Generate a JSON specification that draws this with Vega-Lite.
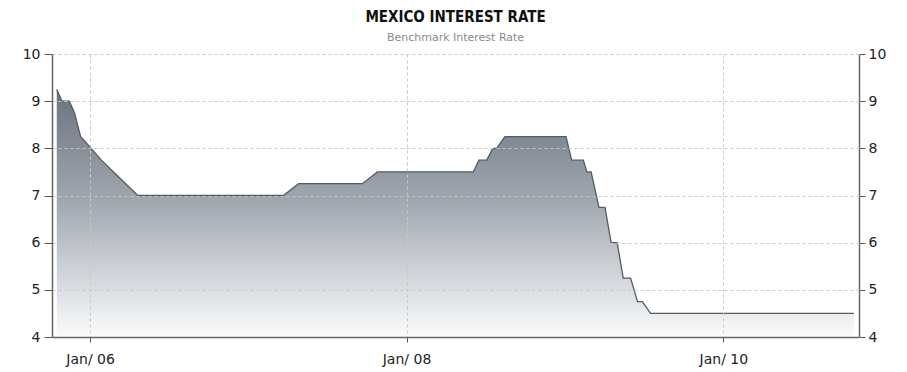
{
  "$schema": "https://vega.github.io/schema/vega-lite/v6.json",
  "width": 807,
  "height": 283,
  "autosize": {"type": "none"},
  "padding": {"left": 52, "top": 54, "right": 48, "bottom": 35},
  "background": "white",
  "title": {
    "text": "MEXICO INTEREST RATE",
    "subtitle": "Benchmark Interest Rate",
    "anchor": "middle",
    "font": "DejaVu Sans Condensed",
    "fontSize": 15,
    "fontWeight": "bold",
    "color": "#111111",
    "subtitleFont": "DejaVu Sans",
    "subtitleFontSize": 11,
    "subtitleColor": "#8a8a8a",
    "subtitlePadding": 7,
    "offset": 4
  },
  "data": {
    "values": [
      {"date": "2005-10-16", "rate": 9.25},
      {"date": "2005-10-28", "rate": 9.0},
      {"date": "2005-11-14", "rate": 9.0},
      {"date": "2005-11-26", "rate": 8.75},
      {"date": "2005-12-10", "rate": 8.25},
      {"date": "2006-01-27", "rate": 7.75},
      {"date": "2006-02-24", "rate": 7.5},
      {"date": "2006-03-24", "rate": 7.25},
      {"date": "2006-04-21", "rate": 7.0},
      {"date": "2007-03-23", "rate": 7.0},
      {"date": "2007-04-27", "rate": 7.25},
      {"date": "2007-09-21", "rate": 7.25},
      {"date": "2007-10-26", "rate": 7.5},
      {"date": "2008-06-03", "rate": 7.5},
      {"date": "2008-06-16", "rate": 7.75},
      {"date": "2008-07-04", "rate": 7.75},
      {"date": "2008-07-18", "rate": 8.0},
      {"date": "2008-07-27", "rate": 8.0},
      {"date": "2008-08-15", "rate": 8.25},
      {"date": "2009-01-03", "rate": 8.25},
      {"date": "2009-01-16", "rate": 7.75},
      {"date": "2009-02-12", "rate": 7.75},
      {"date": "2009-02-20", "rate": 7.5},
      {"date": "2009-03-02", "rate": 7.5},
      {"date": "2009-03-20", "rate": 6.75},
      {"date": "2009-04-03", "rate": 6.75},
      {"date": "2009-04-17", "rate": 6.0},
      {"date": "2009-05-01", "rate": 6.0},
      {"date": "2009-05-15", "rate": 5.25},
      {"date": "2009-06-01", "rate": 5.25},
      {"date": "2009-06-17", "rate": 4.75},
      {"date": "2009-06-28", "rate": 4.75},
      {"date": "2009-07-17", "rate": 4.5},
      {"date": "2010-10-29", "rate": 4.5}
    ]
  },
  "encoding": {
    "x": {
      "field": "date",
      "type": "temporal",
      "scale": {
        "type": "utc",
        "domain": [
          {"year": 2005, "month": 10, "date": 5, "utc": true},
          {"year": 2010, "month": 11, "date": 10, "utc": true}
        ]
      },
      "axis": {
        "title": null,
        "values": [
          {"year": 2006, "month": 1, "date": 1, "utc": true},
          {"year": 2008, "month": 1, "date": 1, "utc": true},
          {"year": 2010, "month": 1, "date": 1, "utc": true}
        ],
        "labelExpr": "utcFormat(datum.value, '%b/ %y')",
        "labelFont": "DejaVu Sans",
        "labelFontSize": 14,
        "labelColor": "#222222",
        "labelPadding": 10,
        "tickSize": 5,
        "tickColor": "#555555",
        "domainColor": "#666666",
        "domainWidth": 1.5,
        "gridColor": "#c8c8c8",
        "gridDash": [3, 3],
        "gridWidth": 1,
        "zindex": 1
      }
    },
    "y": {
      "field": "rate",
      "type": "quantitative",
      "scale": {"domain": [4, 10], "nice": false, "zero": false}
    }
  },
  "layer": [
    {
      "mark": {
        "type": "area",
        "color": {
          "gradient": "linear",
          "x1": 0, "y1": 0, "x2": 0, "y2": 1,
          "stops": [
            {"offset": 0, "color": "#69737f"},
            {"offset": 0.45, "color": "#a0a7af"},
            {"offset": 0.8, "color": "#d9dde1"},
            {"offset": 1, "color": "#fbfbfc"}
          ]
        }
      },
      "encoding": {
        "y": {
          "field": "rate",
          "type": "quantitative",
          "axis": {
            "title": null,
            "orient": "left",
            "values": [4, 5, 6, 7, 8, 9, 10],
            "labelFont": "DejaVu Sans",
            "labelFontSize": 14,
            "labelColor": "#222222",
            "labelPadding": 4,
            "tickSize": 8,
            "tickColor": "#555555",
            "domainColor": "#666666",
            "domainWidth": 1.5,
            "gridColor": "#c8c8c8",
            "gridDash": [3, 3],
            "gridWidth": 1,
            "zindex": 1
          }
        },
        "y2": {"datum": 4}
      }
    },
    {
      "mark": {"type": "line", "color": "#525b66", "strokeWidth": 1.3},
      "encoding": {
        "y": {
          "field": "rate",
          "type": "quantitative",
          "axis": {
            "title": null,
            "orient": "right",
            "values": [4, 5, 6, 7, 8, 9, 10],
            "grid": false,
            "labelFont": "DejaVu Sans",
            "labelFontSize": 14,
            "labelColor": "#222222",
            "labelPadding": 3,
            "tickSize": 6,
            "tickColor": "#555555",
            "domainColor": "#666666",
            "domainWidth": 1.5
          }
        }
      }
    }
  ],
  "resolve": {"axis": {"y": "independent"}},
  "config": {"view": {"stroke": null}}
}
